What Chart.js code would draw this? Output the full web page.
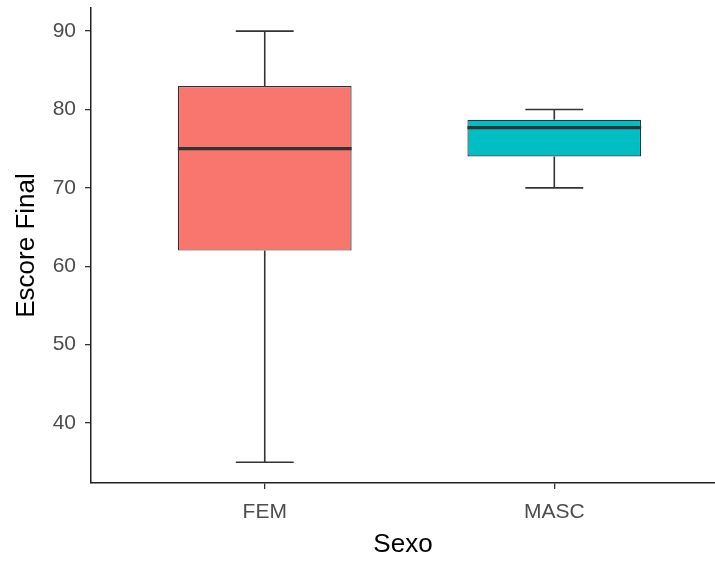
<!DOCTYPE html>
<html>
<head>
<meta charset="utf-8">
<script src="https://cdn.jsdelivr.net/npm/chart.js@4/dist/chart.umd.min.js"></script>
<style>
  html, body { margin: 0; padding: 0; background: #ffffff; }
  #wrap { width: 715px; height: 561px; position: relative; }
</style>
</head>
<body>
<div id="wrap"><canvas id="c" width="715" height="561"></canvas></div>
<script>
const categories = ['FEM', 'MASC'];
const minVals = [35, 70];
const q1Vals = [62, 74];
const medianVals = [75, 77.7];
const q3Vals = [83, 78.7];
const maxVals = [90, 80];
const yTicks = [40, 50, 60, 70, 80, 90];
const boxColors = ['#F8766D', '#00BFC4'];

const positions = categories.map((c, i) => i + 1);

const boxplotPlugin = {
  id: 'boxplotExtras',
  afterDatasetsDraw(chart) {
    const ctx = chart.ctx;
    const xs = chart.scales.x, ys = chart.scales.y;
    const meta = chart.getDatasetMeta(0);
    ctx.save();
    ctx.strokeStyle = '#333333';
    ctx.lineCap = 'butt';
    positions.forEach((p, i) => {
      const cx = xs.getPixelForValue(p);
      const capHalf = (xs.getPixelForValue(p + 0.1) - xs.getPixelForValue(p - 0.1)) / 2;
      ctx.lineWidth = 1.6;
      ctx.beginPath();
      ctx.moveTo(cx, ys.getPixelForValue(q3Vals[i]));
      ctx.lineTo(cx, ys.getPixelForValue(maxVals[i]));
      ctx.stroke();
      ctx.beginPath();
      ctx.moveTo(cx, ys.getPixelForValue(q1Vals[i]));
      ctx.lineTo(cx, ys.getPixelForValue(minVals[i]));
      ctx.stroke();
      [maxVals[i], minVals[i]].forEach(v => {
        const y = ys.getPixelForValue(v);
        ctx.beginPath();
        ctx.moveTo(cx - capHalf, y);
        ctx.lineTo(cx + capHalf, y);
        ctx.stroke();
      });
      const bar = meta.data[i];
      const half = bar.width / 2;
      const my = ys.getPixelForValue(medianVals[i]);
      ctx.lineWidth = 3.2;
      ctx.beginPath();
      ctx.moveTo(bar.x - half, my);
      ctx.lineTo(bar.x + half, my);
      ctx.stroke();
    });
    ctx.restore();
  }
};

new Chart(document.getElementById('c'), {
  type: 'bar',
  data: {
    datasets: [{
      data: positions.map((p, i) => ({ x: p, y: [q1Vals[i], q3Vals[i]] })),
      backgroundColor: boxColors,
      borderColor: '#333333',
      borderWidth: 1.2,
      borderSkipped: false,
      barPercentage: 0.6,
      categoryPercentage: 1.0
    }]
  },
  options: {
    responsive: false,
    animation: false,
    devicePixelRatio: 1,
    layout: { padding: { top: 8, right: 0, bottom: 0, left: 0 } },
    plugins: { legend: { display: false }, tooltip: { enabled: false } },
    scales: {
      x: {
        type: 'linear',
        offset: false,
        min: 0.4,
        max: 2.555,
        afterBuildTicks(scale) { scale.ticks = positions.map(v => ({ value: v })); },
        afterFit(scale) { scale.height = 78; scale.paddingLeft = 0; scale.paddingRight = 0; },
        ticks: {
          callback: (v) => categories[Math.round(v) - 1] || '',
          font: { family: 'Liberation Sans, Arial, sans-serif', size: 21 },
          color: '#4D4D4D',
          padding: 11,
          maxRotation: 0,
          autoSkip: false
        },
        grid: { display: true, offset: false, drawOnChartArea: false, drawTicks: true, tickLength: 6, color: '#333333', lineWidth: 1.3 },
        border: { display: true, color: '#222222', width: 1.5 },
        title: {
          display: true,
          text: 'Sexo',
          font: { family: 'Liberation Sans, Arial, sans-serif', size: 26 },
          color: '#000000',
          padding: { top: 4, bottom: 1 }
        }
      },
      y: {
        type: 'linear',
        min: 32.35,
        max: 92.95,
        afterBuildTicks(scale) { scale.ticks = yTicks.map(v => ({ value: v })); },
        afterFit(scale) { scale.width = 91; scale.paddingTop = 0; scale.paddingBottom = 0; },
        ticks: {
          font: { family: 'Liberation Sans, Arial, sans-serif', size: 21 },
          color: '#4D4D4D',
          padding: 9
        },
        grid: { display: true, drawOnChartArea: false, drawTicks: true, tickLength: 6, color: '#333333', lineWidth: 1.3 },
        border: { display: true, color: '#222222', width: 1.5 },
        title: {
          display: true,
          text: 'Escore Final',
          font: { family: 'Liberation Sans, Arial, sans-serif', size: 26 },
          color: '#000000',
          padding: { top: 11, bottom: 0 }
        }
      }
    }
  },
  plugins: [boxplotPlugin]
});
</script>
</body>
</html>
